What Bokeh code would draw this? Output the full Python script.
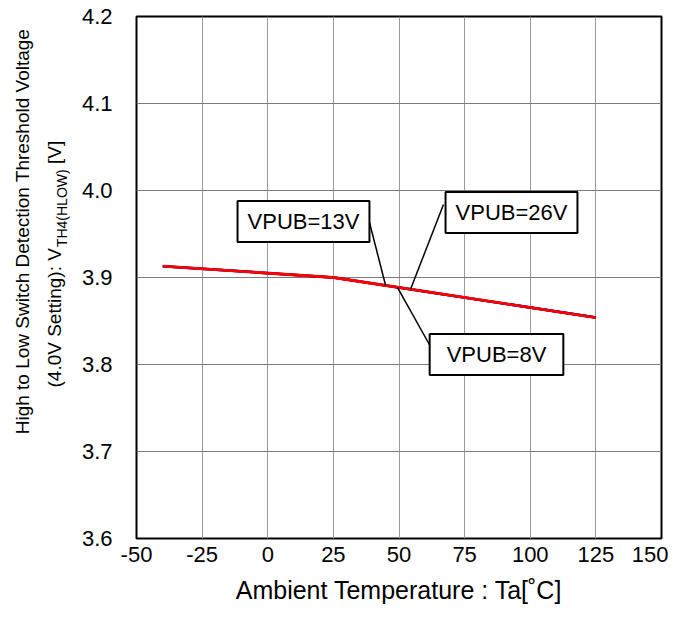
import numpy as np
from bokeh.plotting import figure
from bokeh.layouts import row
from bokeh.models import Label, FixedTicker, Range1d, NumeralTickFormatter
from bokeh.core.properties import value
from bokeh.embed import file_html
from bokeh.resources import INLINE

# ---- data ----
temps = [-40, 25, 125]
vpub8 = [3.913, 3.900, 3.854]
vpub13 = [3.913, 3.900, 3.854]
vpub26 = [3.913, 3.900, 3.854]
x_ticks = [-50, -25, 0, 25, 50, 75, 100, 125, 150]
y_ticks = [3.6, 3.7, 3.8, 3.9, 4.0, 4.1, 4.2]
series_names = ["VPUB=8V", "VPUB=13V", "VPUB=26V"]

FONT = "Liberation Sans"

# frame geometry (page pixels) used only to place annotations
FX0, FX1, FY0, FY1 = 136, 661, 16, 538
XMIN, XMAX, YMIN, YMAX = -50, 150, 3.6, 4.2
LW = 72            # width of the strip that carries the y title
W, H = 668, 620


def dx(px):
    return XMIN + (px - FX0) * (XMAX - XMIN) / (FX1 - FX0)


def dy(py):
    return YMAX - (py - FY0) * (YMAX - YMIN) / (FY1 - FY0)


# ---------------- y-title strip (frame aligned with the chart frame) ----------------
t = figure(width=LW, height=H, output_backend="svg", toolbar_location=None,
           x_range=Range1d(0, LW), y_range=Range1d(FY1, FY0),
           min_border=0, x_axis_type=None, y_axis_type=None)
t.outline_line_color = None
t.background_fill_color = "white"
t.border_fill_color = "white"
t.xgrid.visible = False
t.ygrid.visible = False

F1 = 19      # title size
FS = 14      # subscript size
em_part1 = 7.337   # "(4.0V Setting): V" width in em (Arial metrics)
em_sub = 5.555     # "TH4(HLOW)"
y_start2 = 387
y_sub = y_start2 - em_part1 * F1 - 1
y_unit = y_sub - em_sub * FS - 0.278 * F1

ang = np.pi / 2
t.text(x=[22], y=[231], text=["High to Low Switch Detection Threshold Voltage"],
       angle=ang, text_align="center", text_baseline="middle",
       text_font=value(FONT), text_font_size=f"{F1}px", text_color="black")
t.text(x=[54], y=[y_start2], text=["(4.0V Setting): V"],
       angle=ang, text_align="left", text_baseline="middle",
       text_font=value(FONT), text_font_size=f"{F1}px", text_color="black")
t.text(x=[61], y=[y_sub], text=["TH4(HLOW)"],
       angle=ang, text_align="left", text_baseline="middle",
       text_font=value(FONT), text_font_size=f"{FS}px", text_color="black")
t.text(x=[54], y=[y_unit], text=["[V]"],
       angle=ang, text_align="left", text_baseline="middle",
       text_font=value(FONT), text_font_size=f"{F1}px", text_color="black")

# ---------------- main chart ----------------
MW = W - LW
p = figure(width=MW, height=H, output_backend="svg", toolbar_location=None,
           x_range=Range1d(XMIN, XMAX), y_range=Range1d(YMIN, YMAX),
           min_border_left=FX0 - LW, min_border_right=W - FX1,
           min_border_top=FY0, min_border_bottom=H - FY1)
p.background_fill_color = "white"
p.border_fill_color = "white"
p.outline_line_color = "black"
p.outline_line_width = 2

for ax in (p.xaxis[0], p.yaxis[0]):
    ax.axis_line_color = None
    ax.major_tick_line_color = None
    ax.minor_tick_line_color = None
    ax.major_tick_in = 0
    ax.major_tick_out = 0
    ax.major_label_text_font = FONT
    ax.major_label_text_font_size = "22px"
    ax.major_label_text_color = "black"

p.xaxis[0].ticker = FixedTicker(ticks=x_ticks)
p.yaxis[0].ticker = FixedTicker(ticks=y_ticks)
p.xaxis[0].formatter = NumeralTickFormatter(format="0")
p.yaxis[0].formatter = NumeralTickFormatter(format="0.0")
p.xaxis[0].major_label_standoff = 8
p.yaxis[0].major_label_standoff = 24

p.xaxis[0].axis_label = "Ambient Temperature : Ta[˚C]"
p.xaxis[0].axis_label_text_font = FONT
p.xaxis[0].axis_label_text_font_size = "25px"
p.xaxis[0].axis_label_text_font_style = "normal"
p.xaxis[0].axis_label_text_color = "black"
p.xaxis[0].axis_label_standoff = 11

p.xgrid.grid_line_color = "#9a9a9a"
p.ygrid.grid_line_color = "#7a7a7a"
p.xgrid.grid_line_width = 1
p.ygrid.grid_line_width = 1

# ---- series ----
p.line(temps, vpub8, line_color="black", line_width=2.5)
p.line(temps, vpub13, line_color="#0000cc", line_width=2.5)
p.line(temps, vpub26, line_color="red", line_width=2.8)

# ---- leader lines and callout boxes ----
callouts = [
    # text, box centre px, leader start px, temperature on curve, series, h-pad
    ("VPUB=13V", (303, 221), (369, 222), 44.9, vpub13, 10),
    ("VPUB=26V", (511, 212), (443, 204), 54.4, vpub26, 10),
    ("VPUB=8V", (496, 354), (430, 346), 49.4, vpub8, 17),
]
for txt, (bx, by), (sx, sy), t_on, ser, hp in callouts:
    yv = float(np.interp(t_on, temps, ser))
    p.segment(x0=[dx(sx)], y0=[dy(sy)], x1=[t_on], y1=[yv],
              line_color="black", line_width=1.5)
for txt, (bx, by), (sx, sy), t_on, ser, hp in callouts:
    p.add_layout(Label(x=dx(bx), y=dy(by), text=txt, text_align="center",
                       text_baseline="middle", text_font=FONT,
                       text_font_size="22px", text_color="black",
                       background_fill_color="white",
                       border_line_color="black", border_line_width=2,
                       padding=(hp, 8)))

layout = row(t, p, spacing=0)
open("out.html", "w").write(file_html(layout, INLINE))
